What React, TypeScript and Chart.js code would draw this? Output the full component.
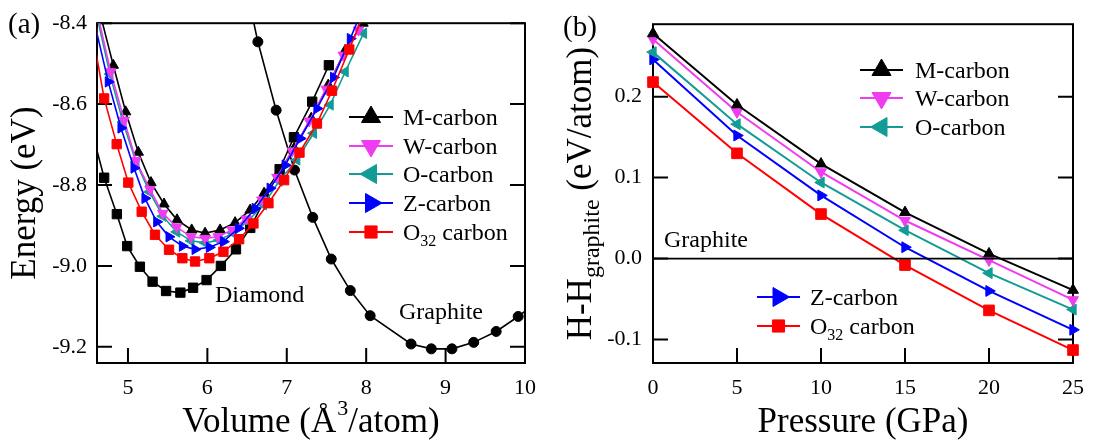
import React, { useEffect, useRef } from 'react';
import { Chart, registerables } from 'chart.js';

Chart.register(...registerables);

const FONT = '"Liberation Serif", "Times New Roman", serif';

// ---------------- Panel (a): energy vs volume ----------------
const diamondVolume = [4.55, 4.70, 4.86, 4.99, 5.15, 5.31, 5.48, 5.66, 5.82, 5.99, 6.17, 6.36, 6.54, 6.72, 6.91, 7.09, 7.32, 7.53];
const diamondEnergy = [-8.67, -8.782, -8.872, -8.951, -9.002, -9.039, -9.062, -9.066, -9.054, -9.035, -9.0, -8.959, -8.906, -8.837, -8.761, -8.682, -8.594, -8.504];

const graphiteVolume = [6.41, 6.636, 6.866, 7.097, 7.327, 7.56, 7.80, 8.05, 8.565, 8.82, 9.08, 9.354, 9.637, 9.914, 10.19];
const graphiteEnergy = [-8.24, -8.446, -8.615, -8.763, -8.88, -8.983, -9.061, -9.123, -9.193, -9.205, -9.205, -9.189, -9.162, -9.125, -9.084];

const mCarbonVolume = [4.55, 4.815, 4.971, 5.13, 5.29, 5.454, 5.618, 5.803, 5.971, 6.16, 6.349, 6.538, 6.715, 6.904, 7.093, 7.308, 7.522, 7.736, 7.96];
const mCarbonEnergy = [-8.30, -8.504, -8.619, -8.719, -8.794, -8.847, -8.886, -8.911, -8.919, -8.911, -8.893, -8.862, -8.82, -8.768, -8.709, -8.635, -8.553, -8.467, -8.40];

const wCarbonVolume = [4.55, 4.782, 4.953, 5.101, 5.277, 5.438, 5.614, 5.794, 5.971, 6.135, 6.311, 6.488, 6.686, 6.875, 7.068, 7.282, 7.497, 7.711, 7.904];
const wCarbonEnergy = [-8.318, -8.52, -8.64, -8.74, -8.811, -8.87, -8.904, -8.928, -8.932, -8.928, -8.911, -8.884, -8.837, -8.781, -8.716, -8.642, -8.563, -8.479, -8.417];

const oCarbonVolume = [4.55, 4.773, 4.937, 5.101, 5.271, 5.438, 5.614, 5.794, 5.971, 6.148, 6.324, 6.513, 6.706, 6.904, 7.127, 7.337, 7.547, 7.736, 7.967];
const oCarbonEnergy = [-8.331, -8.526, -8.644, -8.743, -8.817, -8.877, -8.916, -8.938, -8.943, -8.936, -8.919, -8.889, -8.849, -8.79, -8.738, -8.672, -8.602, -8.52, -8.425];

const zCarbonVolume = [4.55, 4.752, 4.912, 5.076, 5.214, 5.362, 5.517, 5.685, 5.845, 6.025, 6.202, 6.391, 6.601, 6.79, 6.98, 7.169, 7.38, 7.589, 7.80, 8.0];
const zCarbonEnergy = [-8.375, -8.545, -8.659, -8.758, -8.833, -8.891, -8.928, -8.951, -8.959, -8.954, -8.94, -8.907, -8.858, -8.808, -8.751, -8.685, -8.611, -8.534, -8.438, -8.343];

const o32CarbonVolume = [4.55, 4.70, 4.858, 5.004, 5.173, 5.34, 5.517, 5.685, 5.845, 6.025, 6.202, 6.40, 6.58, 6.769, 6.967, 7.16, 7.38, 7.569, 7.787, 8.01];
const o32CarbonEnergy = [-8.42, -8.586, -8.699, -8.794, -8.866, -8.923, -8.96, -8.981, -8.989, -8.981, -8.965, -8.934, -8.895, -8.845, -8.788, -8.72, -8.648, -8.567, -8.465, -8.356];

// ---------------- Panel (b): enthalpy vs pressure ----------------
const pressureGPa = [0, 5, 10, 15, 20, 25];
const mCarbonH = [0.278, 0.19, 0.117, 0.057, 0.006, -0.039];
const wCarbonH = [0.271, 0.181, 0.107, 0.047, -0.002, -0.051];
const oCarbonH = [0.255, 0.166, 0.094, 0.035, -0.018, -0.063];
const zCarbonH = [0.246, 0.152, 0.078, 0.014, -0.040, -0.088];
const o32CarbonH = [0.218, 0.130, 0.055, -0.008, -0.064, -0.113];
const graphiteRefP = [0, 25];
const graphiteRefH = [0, 0];

// ---------------- styles ----------------
type Sty = { color: string; style: 'triangle' | 'rect' | 'circle'; rot: number };
const S_M: Sty = { color: '#000000', style: 'triangle', rot: 0 };
const S_W: Sty = { color: '#f03cf0', style: 'triangle', rot: 180 };
const S_O: Sty = { color: '#139c96', style: 'triangle', rot: 270 };
const S_Z: Sty = { color: '#0000ff', style: 'triangle', rot: 90 };
const S_O32: Sty = { color: '#ff0000', style: 'rect', rot: 0 };
const S_D: Sty = { color: '#000000', style: 'rect', rot: 0 };
const S_G: Sty = { color: '#000000', style: 'circle', rot: 0 };

type Seg = { t: string; size: number; dy?: number; dx?: number };

function segWidth(ctx: CanvasRenderingContext2D, segs: Seg[]) {
  let w = 0;
  for (const s of segs) {
    ctx.font = `${s.size}px ${FONT}`;
    w += ctx.measureText(s.t).width + (s.dx || 0);
  }
  return w;
}

function drawSegs(ctx: CanvasRenderingContext2D, segs: Seg[], x: number, y: number, align: 'left' | 'center', rotate = false) {
  ctx.save();
  ctx.translate(x, y);
  if (rotate) ctx.rotate(-Math.PI / 2);
  ctx.textBaseline = 'alphabetic';
  ctx.textAlign = 'left';
  ctx.fillStyle = '#000';
  let cx = align === 'center' ? -segWidth(ctx, segs) / 2 : 0;
  for (const s of segs) {
    ctx.font = `${s.size}px ${FONT}`;
    cx += s.dx || 0;
    ctx.fillText(s.t, cx, s.dy || 0);
    cx += ctx.measureText(s.t).width;
  }
  ctx.restore();
}

function drawMarker(ctx: CanvasRenderingContext2D, st: Sty, x: number, y: number, r: number) {
  ctx.save();
  ctx.fillStyle = st.color;
  ctx.strokeStyle = st.color;
  ctx.lineWidth = 1;
  ctx.beginPath();
  if (st.style === 'triangle') {
    let rad = (st.rot * Math.PI) / 180;
    for (let k = 0; k < 3; k++) {
      const px = x + Math.sin(rad) * r;
      const py = y - Math.cos(rad) * r;
      if (k === 0) ctx.moveTo(px, py);
      else ctx.lineTo(px, py);
      rad += (2 * Math.PI) / 3;
    }
    ctx.closePath();
  } else if (st.style === 'rect') {
    const s = r * Math.SQRT2;
    ctx.rect(x - s / 2, y - s / 2, s, s);
  } else {
    ctx.arc(x, y, r, 0, Math.PI * 2);
  }
  ctx.fill();
  ctx.stroke();
  ctx.restore();
}

type LegendEntry = { label: Seg[]; st: Sty };

function drawLegend(ctx: CanvasRenderingContext2D, entries: LegendEntry[], x1: number, x2: number, tx: number, rows: number[], r: number) {
  entries.forEach((e, i) => {
    const y = rows[i];
    ctx.save();
    ctx.strokeStyle = e.st.color;
    ctx.lineWidth = 2;
    ctx.beginPath();
    ctx.moveTo(x1, y);
    ctx.lineTo(x2, y);
    ctx.stroke();
    ctx.restore();
    drawMarker(ctx, e.st, (x1 + x2) / 2, y, e.st.style === 'rect' ? r * 0.78 : r);
    drawSegs(ctx, e.label, tx, y + 8, 'left');
  });
}

const frameTicksPlugin = {
  id: 'frameTicks',
  beforeDatasetsDraw(chart: any) {
    const { ctx, chartArea: a, scales } = chart;
    ctx.save();
    ctx.strokeStyle = '#000';
    ctx.lineWidth = 2;
    ctx.strokeRect(a.left, a.top, a.right - a.left, a.bottom - a.top);
    const tl = 15;
    ctx.beginPath();
    scales.x.ticks.forEach((t: any) => {
      const px = scales.x.getPixelForValue(t.value);
      ctx.moveTo(px, a.bottom);
      ctx.lineTo(px, a.bottom - tl);
    });
    scales.y.ticks.forEach((t: any) => {
      const py = scales.y.getPixelForValue(t.value);
      ctx.moveTo(a.left, py);
      ctx.lineTo(a.left + tl, py);
      ctx.moveTo(a.right, py);
      ctx.lineTo(a.right - tl, py);
    });
    ctx.stroke();
    ctx.restore();
  },
};

function ds(label: string, xs: number[], ys: number[], st: Sty, radius: number, lw: number) {
  return {
    label,
    data: xs.map((x, i) => ({ x, y: ys[i] })),
    showLine: true,
    borderColor: st.color,
    backgroundColor: st.color,
    borderWidth: lw,
    pointStyle: st.style,
    pointRotation: st.rot,
    pointRadius: radius,
    pointBorderWidth: 1,
    pointBorderColor: st.color,
    pointBackgroundColor: st.color,
    tension: 0,
  };
}

const tickFont = { family: FONT, size: 22 };

export default function App() {
  const refA = useRef<HTMLCanvasElement | null>(null);
  const refB = useRef<HTMLCanvasElement | null>(null);

  useEffect(() => {
    const annotA = {
      id: 'annotA',
      afterDraw(chart: any) {
        const { ctx, chartArea: a } = chart;
        const cy = (a.top + a.bottom) / 2;
        const cx = (a.left + a.right) / 2;
        drawSegs(ctx, [{ t: '(a)', size: 29 }], 8, 33, 'left');
        drawSegs(ctx, [{ t: 'Energy (eV)', size: 35 }], a.left - 62, cy, 'center', true);
        drawSegs(
          ctx,
          [
            { t: 'Volume (Å', size: 35 },
            { t: '3', size: 22, dy: -17, dx: 1 },
            { t: '/atom)', size: 35 },
          ],
          cx,
          a.bottom + 69,
          'center'
        );
        drawSegs(ctx, [{ t: 'Diamond', size: 24 }], 215, 302, 'left');
        drawSegs(ctx, [{ t: 'Graphite', size: 24 }], 399, 319, 'left');
        drawLegend(
          ctx,
          [
            { label: [{ t: 'M-carbon', size: 24 }], st: S_M },
            { label: [{ t: 'W-carbon', size: 24 }], st: S_W },
            { label: [{ t: 'O-carbon', size: 24 }], st: S_O },
            { label: [{ t: 'Z-carbon', size: 24 }], st: S_Z },
            {
              label: [
                { t: 'O', size: 24 },
                { t: '32', size: 16, dy: 6 },
                { t: ' carbon', size: 24 },
              ],
              st: S_O32,
            },
          ],
          349,
          393,
          403,
          [117, 146, 174, 203, 232],
          11
        );
      },
    };

    const annotB = {
      id: 'annotB',
      afterDraw(chart: any) {
        const { ctx, chartArea: a } = chart;
        const cy = (a.top + a.bottom) / 2;
        const cx = (a.left + a.right) / 2;
        drawSegs(ctx, [{ t: '(b)', size: 29 }], 15, 36, 'left');
        drawSegs(
          ctx,
          [
            { t: 'H-H', size: 35 },
            { t: 'graphite', size: 24, dy: 8 },
            { t: ' (eV/atom)', size: 35 },
          ],
          a.left - 62,
          cy,
          'center',
          true
        );
        drawSegs(ctx, [{ t: 'Pressure (GPa)', size: 35 }], cx, a.bottom + 69, 'center');
        drawSegs(ctx, [{ t: 'Graphite', size: 24 }], 116, 247, 'left');
        drawLegend(
          ctx,
          [
            { label: [{ t: 'M-carbon', size: 24 }], st: S_M },
            { label: [{ t: 'W-carbon', size: 24 }], st: S_W },
            { label: [{ t: 'O-carbon', size: 24 }], st: S_O },
          ],
          312,
          355,
          367,
          [70, 98, 127],
          11
        );
        drawLegend(
          ctx,
          [
            { label: [{ t: 'Z-carbon', size: 24 }], st: S_Z },
            {
              label: [
                { t: 'O', size: 24 },
                { t: '32', size: 16, dy: 6 },
                { t: ' carbon', size: 24 },
              ],
              st: S_O32,
            },
          ],
          209,
          252,
          262,
          [297, 326],
          11
        );
      },
    };

    const chartA = new Chart(refA.current as HTMLCanvasElement, {
      type: 'scatter',
      data: {
        datasets: [
          ds('O32 carbon', o32CarbonVolume, o32CarbonEnergy, S_O32, 6.6, 1.6),
          ds('Z-carbon', zCarbonVolume, zCarbonEnergy, S_Z, 6, 1.6),
          ds('W-carbon', wCarbonVolume, wCarbonEnergy, S_W, 6, 1.6),
          ds('O-carbon', oCarbonVolume, oCarbonEnergy, S_O, 6, 1.6),
          ds('M-carbon', mCarbonVolume, mCarbonEnergy, S_M, 6, 1.6),
          ds('Diamond', diamondVolume, diamondEnergy, S_D, 6.6, 1.6),
          ds('Graphite', graphiteVolume, graphiteEnergy, S_G, 5, 1.6),
        ] as any,
      },
      options: {
        responsive: false,
        animation: false,
        events: [],
        layout: { padding: { top: 23, right: 22, left: 0, bottom: 0 } },
        plugins: { legend: { display: false }, tooltip: { enabled: false } },
        scales: {
          x: {
            type: 'linear',
            min: 4.61,
            max: 10,
            grid: { display: false, drawTicks: false },
            border: { display: false },
            ticks: {
              stepSize: 1,
              includeBounds: false,
              color: '#000',
              font: tickFont,
              padding: 12,
              maxRotation: 0,
              callback: (v: any) => String(Math.round(Number(v))),
            },
            afterFit: (s: any) => {
              s.height = 79;
            },
          },
          y: {
            type: 'linear',
            min: -9.24,
            max: -8.4,
            grid: { display: false, drawTicks: false },
            border: { display: false },
            ticks: {
              stepSize: 0.2,
              includeBounds: false,
              color: '#000',
              font: tickFont,
              padding: 10,
              callback: (v: any) => Number(v).toFixed(1),
            },
            afterFit: (s: any) => {
              s.width = 97;
            },
          },
        },
      } as any,
      plugins: [frameTicksPlugin, annotA],
    });

    const chartB = new Chart(refB.current as HTMLCanvasElement, {
      type: 'scatter',
      data: {
        datasets: [
          {
            label: 'Graphite',
            data: graphiteRefP.map((x, i) => ({ x, y: graphiteRefH[i] })),
            showLine: true,
            borderColor: '#000',
            borderWidth: 1.8,
            pointRadius: 0,
            clip: false,
          },
          { ...ds('M-carbon', pressureGPa, mCarbonH, S_M, 6.3, 2), clip: false },
          { ...ds('W-carbon', pressureGPa, wCarbonH, S_W, 6.3, 2), clip: false },
          { ...ds('O-carbon', pressureGPa, oCarbonH, S_O, 6.3, 2), clip: false },
          { ...ds('Z-carbon', pressureGPa, zCarbonH, S_Z, 6.3, 2), clip: false },
          { ...ds('O32 carbon', pressureGPa, o32CarbonH, S_O32, 7.5, 2), clip: false },
        ] as any,
      },
      options: {
        responsive: false,
        animation: false,
        events: [],
        layout: { padding: { top: 23, right: 13, left: 0, bottom: 0 } },
        plugins: { legend: { display: false }, tooltip: { enabled: false } },
        scales: {
          x: {
            type: 'linear',
            min: 0,
            max: 25,
            grid: { display: false, drawTicks: false },
            border: { display: false },
            ticks: {
              stepSize: 5,
              includeBounds: false,
              color: '#000',
              font: tickFont,
              padding: 12,
              maxRotation: 0,
              callback: (v: any) => String(Math.round(Number(v))),
            },
            afterFit: (s: any) => {
              s.height = 79;
            },
          },
          y: {
            type: 'linear',
            min: -0.129,
            max: 0.2895,
            grid: { display: false, drawTicks: false },
            border: { display: false },
            ticks: {
              stepSize: 0.1,
              includeBounds: false,
              color: '#000',
              font: tickFont,
              padding: 11,
              callback: (v: any) => Number(v).toFixed(1),
            },
            afterFit: (s: any) => {
              s.width = 105;
            },
          },
        },
      } as any,
      plugins: [frameTicksPlugin, annotB],
    });

    return () => {
      chartA.destroy();
      chartB.destroy();
    };
  }, []);

  return (
    <div style={{ position: 'absolute', left: 0, top: 0, width: 1096, height: 442, background: '#fff', overflow: 'hidden' }}>
      <canvas ref={refA} width={548} height={442} style={{ position: 'absolute', left: 0, top: 0 }} />
      <canvas ref={refB} width={548} height={442} style={{ position: 'absolute', left: 548, top: 0 }} />
    </div>
  );
}
